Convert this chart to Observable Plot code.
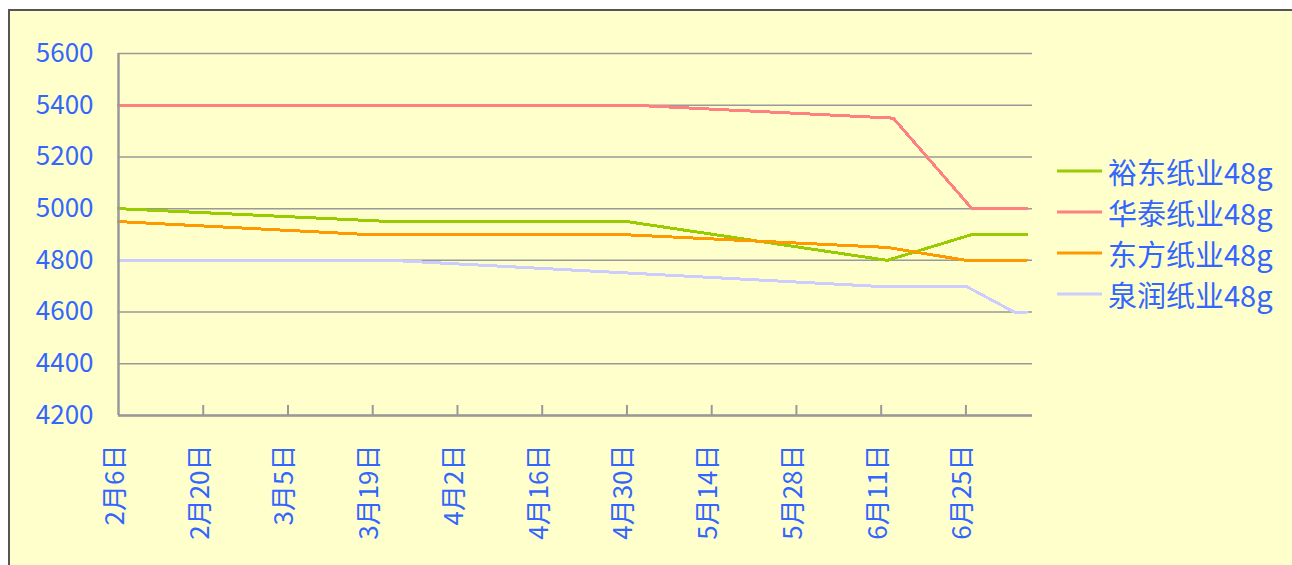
<!DOCTYPE html>
<html><head><meta charset="utf-8">
<script src="https://cdn.jsdelivr.net/npm/d3@7"></script>
<script src="https://cdn.jsdelivr.net/npm/@observablehq/plot@0.6"></script>
<style>
html,body{margin:0;padding:0;background:#fff;width:1292px;height:565px;overflow:hidden;}
#frame{position:absolute;left:8px;top:9px;width:1310px;height:620px;border:2px solid #555;background:#FFFFCC;box-sizing:border-box;}
#chart{position:absolute;left:0;top:0;}
#legend{position:absolute;left:1057px;top:150px;font-family:'Noto Sans CJK SC',sans-serif;font-size:29px;color:#3366FF;}
#legend .row{display:flex;align-items:center;height:41px;white-space:nowrap;}
#legend svg{margin-right:6px;}
</style>
</head><body>
<div id="frame"></div>
<div id="chart"></div>
<div id="legend"></div>
<script>
// Series names and colours
const seriesNames = ["裕东纸业48g", "华泰纸业48g", "东方纸业48g", "泉润纸业48g"];
const seriesColors = ["#99CC00", "#FF8080", "#FF9900", "#CCCCFF"];

// Values (dates in 2008)
const yudongDates  = ["2008-02-06", "2008-03-22", "2008-04-30", "2008-06-12", "2008-06-26", "2008-07-05"];
const yudongValues = [5000, 4950, 4950, 4800, 4900, 4900];
const huataiDates  = ["2008-02-06", "2008-05-01", "2008-06-13", "2008-06-26", "2008-07-05"];
const huataiValues = [5400, 5400, 5350, 5000, 5000];
const dongfangDates  = ["2008-02-06", "2008-03-18", "2008-04-29", "2008-06-12", "2008-06-25", "2008-07-05"];
const dongfangValues = [4950, 4900, 4900, 4850, 4800, 4800];
const quanrunDates  = ["2008-02-06", "2008-03-22", "2008-06-10", "2008-06-25", "2008-07-03", "2008-07-05"];
const quanrunValues = [4800, 4800, 4700, 4700, 4600, 4600];

// Axis ticks
const xTickDates = ["2008-02-06", "2008-02-20", "2008-03-05", "2008-03-19", "2008-04-02", "2008-04-16",
                    "2008-04-30", "2008-05-14", "2008-05-28", "2008-06-11", "2008-06-25"];
const xDomain = ["2008-02-06", "2008-07-06"];
const yTicks = [4200, 4400, 4600, 4800, 5000, 5200, 5400, 5600];

const parse = s => new Date(s + "T00:00:00Z");
const allDates = [yudongDates, huataiDates, dongfangDates, quanrunDates];
const allValues = [yudongValues, huataiValues, dongfangValues, quanrunValues];
const data = [];
seriesNames.forEach((name, i) => {
  allDates[i].forEach((d, j) => data.push({series: name, date: parse(d), value: allValues[i][j]}));
});
const tickFmt = d => `${d.getUTCMonth() + 1}月${d.getUTCDate()}日`;

const chart = Plot.plot({
  width: 1292, height: 565,
  marginLeft: 118, marginRight: 260, marginTop: 53, marginBottom: 150,
  style: {background: "transparent", fontFamily: "'Noto Sans CJK SC',sans-serif", fontSize: "26px", color: "#3366FF"},
  x: {type: "utc", domain: xDomain.map(parse), label: null},
  y: {domain: [4200, 5600], label: null},
  color: {domain: seriesNames, range: seriesColors},
  marks: [
    Plot.ruleY(yTicks, {stroke: "#999999", strokeWidth: 1.5}),
    Plot.line(data, {x: "date", y: "value", z: "series", stroke: "series", strokeWidth: 3, shapeRendering: "crispEdges"}),
    Plot.ruleX([parse(xDomain[0])], {stroke: "#999999", strokeWidth: 2.5}),
    Plot.ruleY([4200], {stroke: "#999999", strokeWidth: 2.5}),
    Plot.axisY({ticks: yTicks, tickSize: 0, tickPadding: 25, tickFormat: d => String(d), label: null}),
    Plot.axisX({ticks: xTickDates.map(parse), tickSize: 0, tickPadding: 29, tickRotate: -90, tickFormat: tickFmt, dx: -3, label: null}),
    Plot.axisX({ticks: xTickDates.slice(1).map(parse), tickSize: -10, tickFormat: () => "", color: "#999999", strokeWidth: 2, label: null})
  ]
});
document.getElementById("chart").appendChild(chart);

const legend = document.getElementById("legend");
seriesNames.forEach((name, i) => {
  const row = document.createElement("div");
  row.className = "row";
  row.innerHTML = `<svg width="45" height="6"><line x1="0" x2="45" y1="3" y2="3" stroke="${seriesColors[i]}" stroke-width="3"/></svg><span>${name}</span>`;
  legend.appendChild(row);
});
</script>
</body></html>
